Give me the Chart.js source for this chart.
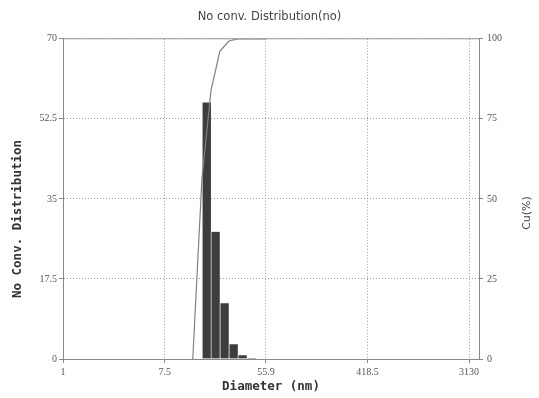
<!DOCTYPE html>
<html>
<head>
<meta charset="utf-8">
<script src="https://cdn.jsdelivr.net/npm/chart.js@4/dist/chart.umd.min.js"></script>
<style>
body{margin:0;background:#fff;}
#wrap{width:539px;height:398px;}
</style>
</head>
<body>
<div id="wrap"><canvas id="chart" width="539" height="398"></canvas></div>
<script>
// bins (nm) and number distribution (%)
const diameters=[17.2,20.5,24.5,29.3,35.0,41.8,50.0];
const distribution=[56.1,27.8,12.2,3.2,0.8,0.2,0.1];

// cumulative curve
const cumDiameters=[13.1,15.7,18.8,22.4,26.8,32.0,38.3,55.9];
const cumPercent=[0,56.1,83.9,96.1,99.3,100,100,100];

const xTicks=[1,7.5,55.9,418.5,3130];
const yTicks=[0,17.5,35,52.5,70];
const cuTicks=[0,25,50,75,100];

const tickFont={family:"'Liberation Serif', serif",size:10};
const monoBold={family:"'DejaVu Sans Mono', monospace",size:12.5,weight:"bold"};

const framePlugin={
id:"frame",
afterDraw(chart){
const ctx=chart.ctx;
const a=chart.chartArea;
ctx.save();
ctx.strokeStyle="#999";
ctx.lineWidth=1;
ctx.beginPath();
ctx.moveTo(a.left,a.top);
ctx.lineTo(a.right,a.top);
ctx.stroke();

ctx.fillStyle="#333";
ctx.font="bold 12.5px 'DejaVu Sans Mono', monospace";
ctx.textAlign="center";
ctx.textBaseline="middle";
ctx.translate(18,219);
ctx.rotate(-Math.PI/2);
ctx.fillText("No Conv. Distribution",0,0);
ctx.restore();

ctx.save();
ctx.fillStyle="#444";
ctx.font="11px 'DejaVu Sans', sans-serif";
ctx.textAlign="center";
ctx.textBaseline="middle";
ctx.translate(527,213);
ctx.rotate(-Math.PI/2);
ctx.fillText("Cu(%)",0,0);
ctx.restore();
}
};

new Chart(document.getElementById("chart"),{
type:"bar",
data:{
datasets:[
{
type:"line",
data:cumDiameters.map((d,i)=>({x:d,y:cumPercent[i]})),
yAxisID:"y2",
borderColor:"#808080",
borderWidth:1.2,
pointRadius:0,
tension:0,
fill:false,
order:0
},
{
type:"bar",
data:diameters.map((d,i)=>({x:d,y:distribution[i]})),
yAxisID:"y",
backgroundColor:"#3d3d3d",
borderColor:"#d0d0d0",
borderWidth:{left:1,right:0,top:0,bottom:0},
borderSkipped:false,
barPercentage:1,
categoryPercentage:1,
order:1
}
]
},
options:{
responsive:false,
animation:false,
devicePixelRatio:1,
layout:{padding:0},
plugins:{
legend:{display:false},
tooltip:{enabled:false},
title:{
display:true,
text:"No conv. Distribution(no)",
color:"#444",
font:{family:"'DejaVu Sans', sans-serif",size:11.5,weight:"normal"},
padding:{top:10,bottom:15}
}
},
scales:{
x:{
type:"logarithmic",
min:1,
max:3815,
offset:false,
afterBuildTicks(s){s.ticks=xTicks.map(v=>({value:v}));},
afterFit(s){s.height=39;},
ticks:{
font:tickFont,color:"#555",maxRotation:0,autoSkip:false,padding:3,
callback:(v)=>String(v)
},
grid:{offset:false,color:"#999",tickColor:"#888",tickLength:4,tickBorderDash:[]},
border:{color:"#888",dash:[1,2]},
title:{display:true,text:"Diameter (nm)",color:"#333",font:monoBold,padding:{top:0,bottom:4}}
},
y:{
position:"left",
min:0,
max:70,
afterBuildTicks(s){s.ticks=yTicks.map(v=>({value:v}));},
afterFit(s){s.width=63;},
ticks:{font:tickFont,color:"#555",padding:2,callback:(v)=>String(v)},
grid:{color:"#999",tickColor:"#888",tickLength:4,tickBorderDash:[]},
border:{color:"#888",dash:[1,2]}
},
y2:{
position:"right",
min:0,
max:100,
afterBuildTicks(s){s.ticks=cuTicks.map(v=>({value:v}));},
afterFit(s){s.width=60;},
ticks:{font:tickFont,color:"#555",padding:4,callback:(v)=>String(v)},
grid:{drawOnChartArea:false,tickColor:"#888",tickLength:4},
border:{color:"#888"}
}
}
},
plugins:[framePlugin]
});
</script>
</body>
</html>
